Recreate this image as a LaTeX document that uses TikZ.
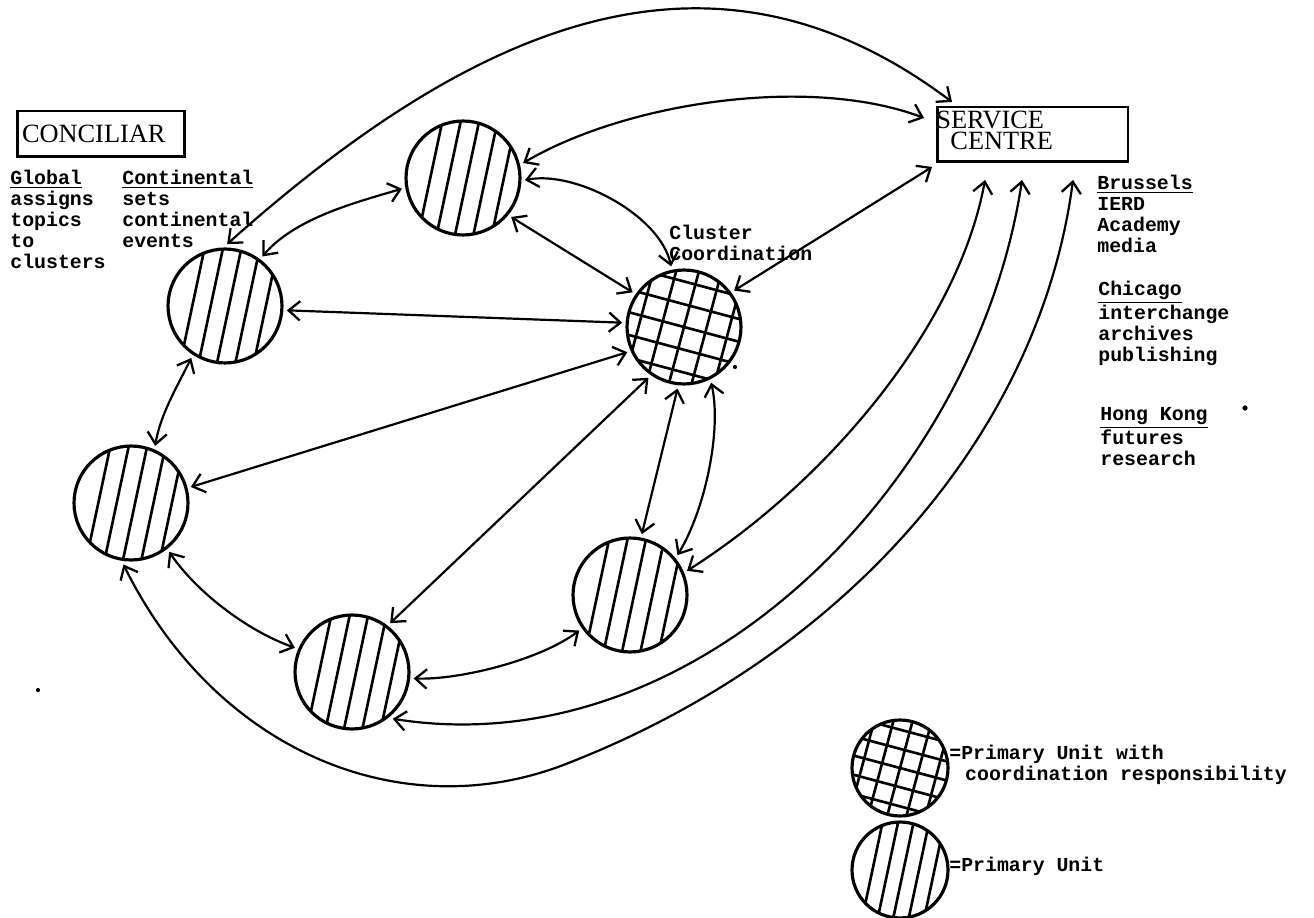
\documentclass[tikz,border=0pt]{standalone}
\usepackage{fontspec}
\setmainfont{Liberation Serif}
\newfontfamily\typewriter{Liberation Mono}
\usetikzlibrary{arrows.meta, positioning, calc}

\begin{document}
\begin{tikzpicture}[x=0.02cm, y=0.02cm,
    >={Straight Barb[length=6.5pt, width=11pt, line width=1.3pt]},
    link/.style={<->, line width=1.25pt},
    box/.style={draw, line width=1.7pt, inner sep=0pt, outer sep=0.1cm},
    hatch/.style={line width=1.5pt},
    notes/.style={font=\typewriter\bfseries\fontsize{11.3}{11.9}\selectfont, align=left, inner sep=0pt, anchor=north west},
    unit/.style={circle, draw, line width=1.8pt, minimum size=#1*0.04cm, inner sep=0pt, outer sep=0.1cm,
        path picture={
            \foreach \o in {-32,-14,4,22,40}
                \draw[hatch] ($(path picture bounding box.center)+(-12:\o*#1/57)+(78:80)$)
                          -- ($(path picture bounding box.center)+(-12:\o*#1/57)+(-102:80)$);
        }},
    unit/.default=57,
    coordunit/.style={circle, draw, line width=1.8pt, minimum size=#1*0.04cm, inner sep=0pt, outer sep=0.1cm,
        path picture={
            \foreach \o in {-44,-22,0,22,44} {
                \draw[hatch] ($(path picture bounding box.center)+(-15:\o*#1/57)+(75:80)$)
                          -- ($(path picture bounding box.center)+(-15:\o*#1/57)+(-105:80)$);
                \draw[hatch] ($(path picture bounding box.center)+(75:\o*#1/57)+(-15:80)$)
                          -- ($(path picture bounding box.center)+(75:\o*#1/57)+(165:80)$);
            }
        }},
    coordunit/.default=57]

\useasboundingbox (0,0) rectangle (1314,-918);

% --- BOXES ---
\node[box, minimum width=3.36cm, minimum height=0.92cm, text width=3.16cm, inner xsep=0.1cm,
      align=left, font=\fontsize{15}{15}\selectfont] (conciliar) at (101,-134) {CONCILIAR};
\node[box, minimum width=3.82cm, minimum height=1.1cm] (service) at (1032.5,-134.5) {};
\node[inner sep=0pt, anchor=north west, align=left, font=\fontsize{15}{12}\selectfont]
      (servicename) at (936,-111) {SERVICE\\\hspace*{8pt}CENTRE};

% --- PRIMARY UNITS ---
\node[unit] (topunit) at (463,-178) {};
\node[unit] (upperunit) at (225,-306) {};
\node[unit] (leftunit) at (131,-503) {};
\node[unit] (lowerunit) at (352,-672) {};
\node[unit] (rightunit) at (630,-595) {};
\node[coordunit] (cluster) at (684,-327) {};

% --- TEXT ---
\node[notes] (global) at (10,-170) {\underline{Global}\\assigns\\topics\\to\\clusters};
\node[notes] (continental) at (122,-170) {\underline{Continental}\\sets\\continental\\events};
\node[notes] (clusterlabel) at (669,-225) {Cluster\\Coordination};
\node[notes] (brussels) at (1097,-175) {\underline{Brussels}\\IERD\\Academy\\media};
\node[notes] (chicago) at (1098,-281) {\underline{Chicago}\\interchange\\archives\\publishing};
\node[notes] (hongkong) at (1100,-407) {\underline{Hong Kong}\\futures\\research};

% --- LINKS ---
\draw[link] (upperunit.88) .. controls (485,-14) and (718,74) .. ($(service.north west)+(20,0)$);
\draw[link] (topunit.14) .. controls (627,-102) and (810,-75) .. ($(service.north west)+(-8,-16)$);
\draw[link] (upperunit.53) .. controls (295,-218) and (357,-202) .. (topunit.190);
\draw[link] (topunit.-2) .. controls (575,-170) and (660,-215) .. (cluster.102);
\draw[link] (topunit.-39) -- (cluster.146);
\draw[link] (cluster.36) -- (service.south west);
\draw[link] (upperunit.-4) -- (cluster.176);
\draw[link] (upperunit.237) .. controls (178,-385) and (160,-415) .. (leftunit.67);
\draw[link] (leftunit.15) -- (cluster.204);
\draw[link] (leftunit.-52) .. controls (195,-590) and (245,-630) .. (lowerunit.157);
\draw[link] (lowerunit.52) -- (cluster.235);
\draw[link] (cluster.264) -- (rightunit.79);
\draw[link] (cluster.296) .. controls (722,-430) and (705,-510) .. (rightunit.40);
\draw[link] (lowerunit.-6) .. controls (460,-680) and (540,-660) .. (rightunit.215);

% long arcs from the service centre
\coordinate (outerdip) at (571,-762);
\draw[link] ($(service.south west)+(53,-13)$) .. controls (958,-327) and (827,-482) .. (rightunit.23);
\draw[link] ($(service.south west)+(90,-13)$) .. controls (977,-480) and (698,-767) .. (lowerunit.-49);
\draw[link] ($(service.south west)+(141,-13)$) .. controls (1040,-430) and (850,-652) .. (outerdip)
    .. controls (404,-830) and (216,-752) .. (leftunit.-97);

% --- KEY ---
\node[coordunit=48] (keycluster) at (900,-768) {};
\node[unit=48] (keyunit) at (900,-870) {};
\node[notes] (keyclustertext) at (949,-745) {=Primary Unit with\\\hspace*{9pt}coordination responsibility};
\node[notes] (keyunittext) at (949,-857) {=Primary Unit};

% specks
\fill (735,-367) circle (1.2pt);
\fill (1245,-408) circle (1.5pt);
\fill (38,-690) circle (1.2pt);

\end{tikzpicture}
\end{document}
